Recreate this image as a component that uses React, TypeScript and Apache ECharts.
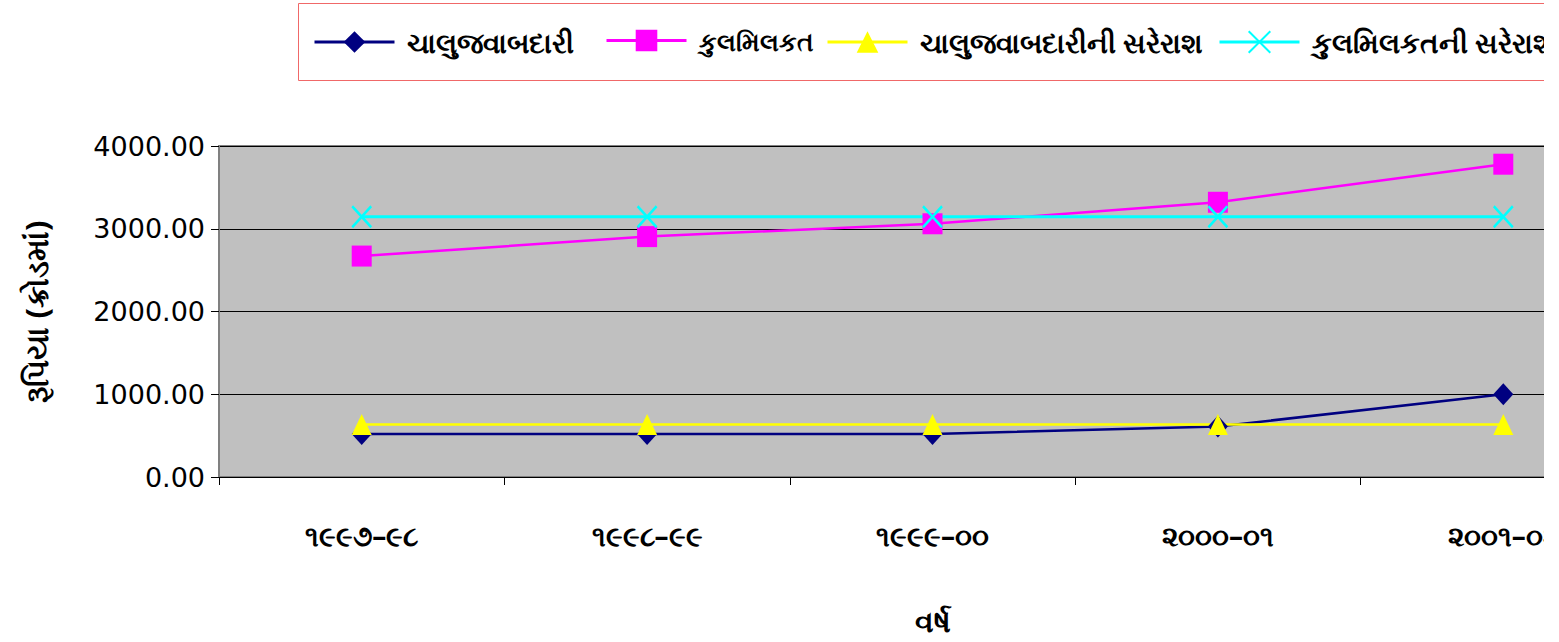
import { useEffect, useRef } from 'react';
import * as echarts from 'echarts';

const categories = ['૧૯૯૭–૯૮', '૧૯૯૮–૯૯', '૧૯૯૯–૦૦', '૨૦૦૦–૦૧', '૨૦૦૧–૦૨'];
const seriesNames = ['ચાલુજવાબદારી', 'કુલમિલકત', 'ચાલુજવાબદારીની સરેરાશ', 'કુલમિલકતની સરેરાશ'];
const liabilities = [520, 520, 520, 610, 1000];
const assets = [2670, 2905, 3060, 3320, 3780];
const liabilitiesAvg = [635, 635, 635, 635, 635];
const assetsAvg = [3145, 3145, 3145, 3145, 3145];
const yTicks = [0, 1000, 2000, 3000, 4000];
const legendLefts = [313, 605, 826, 1218];
const legendFontSizes = [28, 25, 28, 28];

export default function App() {
  const ref = useRef<HTMLDivElement>(null);
  useEffect(() => {
    const chart = echarts.init(ref.current!, null, { renderer: 'svg' });
    const gu = 'Noto Sans, DejaVu Sans, sans-serif';
    chart.setOption({
      animation: false,
      backgroundColor: '#ffffff',
      graphic: [
        {
          type: 'rect',
          silent: true,
          shape: { x: 298.5, y: 3.5, width: 1400, height: 77 },
          style: { fill: 'none', stroke: '#f06868', lineWidth: 1 },
        },
      ],
      legend: seriesNames.map((n, i) => ({
        top: 28,
        left: legendLefts[i],
        padding: 0,
        itemWidth: 80,
        itemHeight: 27,
        data: [n],
        lineStyle: { width: 3 },
        textStyle: {
          fontSize: legendFontSizes[i],
          fontWeight: 'bold',
          color: '#000',
          padding: [0, 0, 0, 7],
          fontFamily: gu,
        },
      })),
      grid: {
        left: 219,
        top: 146,
        width: 1427,
        height: 331,
        outerBoundsMode: 'none',
        containLabel: false,
        show: true,
        backgroundColor: '#C0C0C0',
        borderColor: '#808080',
        borderWidth: 2,
      },
      xAxis: {
        type: 'category',
        data: categories,
        boundaryGap: true,
        axisLine: { show: true, lineStyle: { color: '#000', width: 1 } },
        axisTick: { show: true, length: 8, alignWithLabel: false, lineStyle: { color: '#000' } },
        axisLabel: {
          margin: 44,
          fontSize: 28,
          fontWeight: 'bold',
          color: '#000',
          fontFamily: gu,
        },
        name: 'વર્ષ',
        nameLocation: 'middle',
        nameGap: 128,
        nameTextStyle: {
          fontSize: 30,
          fontWeight: 'bold',
          color: '#000',
          fontFamily: gu,
        },
      },
      yAxis: {
        type: 'value',
        min: yTicks[0],
        max: yTicks[yTicks.length - 1],
        interval: 1000,
        axisLine: { show: true, lineStyle: { color: '#808080', width: 2 } },
        axisTick: { show: true, length: 8, lineStyle: { color: '#000' } },
        splitLine: { show: true, lineStyle: { color: '#000', width: 1 } },
        axisLabel: {
          margin: 14,
          fontSize: 27,
          color: '#000',
          fontFamily: 'DejaVu Sans, sans-serif',
          formatter: (v: number) => v.toFixed(2),
        },
        name: 'રૂપિયા (ક્રોડમાં)',
        nameLocation: 'middle',
        nameGap: 168,
        nameRotate: 90,
        nameTextStyle: {
          fontSize: 31,
          fontWeight: 'bold',
          color: '#000',
          fontFamily: gu,
        },
      },
      series: [
        {
          name: seriesNames[0],
          type: 'line',
          data: liabilities,
          symbol: 'diamond',
          symbolSize: [20, 22],
          color: '#000080',
          lineStyle: { color: '#000080', width: 2.5 },
          itemStyle: { color: '#000080' },
        },
        {
          name: seriesNames[1],
          type: 'line',
          data: assets,
          symbol: 'rect',
          symbolSize: [20, 21],
          color: '#FF00FF',
          lineStyle: { color: '#FF00FF', width: 2.5 },
          itemStyle: { color: '#FF00FF' },
        },
        {
          name: seriesNames[2],
          type: 'line',
          data: liabilitiesAvg,
          symbol: 'triangle',
          symbolSize: [20, 21],
          color: '#FFFF00',
          lineStyle: { color: '#FFFF00', width: 2.5 },
          itemStyle: { color: '#FFFF00' },
        },
        {
          name: seriesNames[3],
          type: 'line',
          data: assetsAvg,
          symbol: 'path://M0,0L20,22M20,0L0,22',
          symbolSize: [19, 21],
          color: '#00FFFF',
          lineStyle: { color: '#00FFFF', width: 3 },
          itemStyle: { color: '#00FFFF', borderColor: '#00FFFF', borderWidth: 2.5 },
        },
      ],
    });
    return () => chart.dispose();
  }, []);
  return (
    <div
      style={{
        position: 'absolute',
        left: 0,
        top: 0,
        width: 1544,
        height: 642,
        overflow: 'hidden',
        background: '#fff',
      }}
    >
      <div ref={ref} style={{ width: 1700, height: 642 }} />
    </div>
  );
}
